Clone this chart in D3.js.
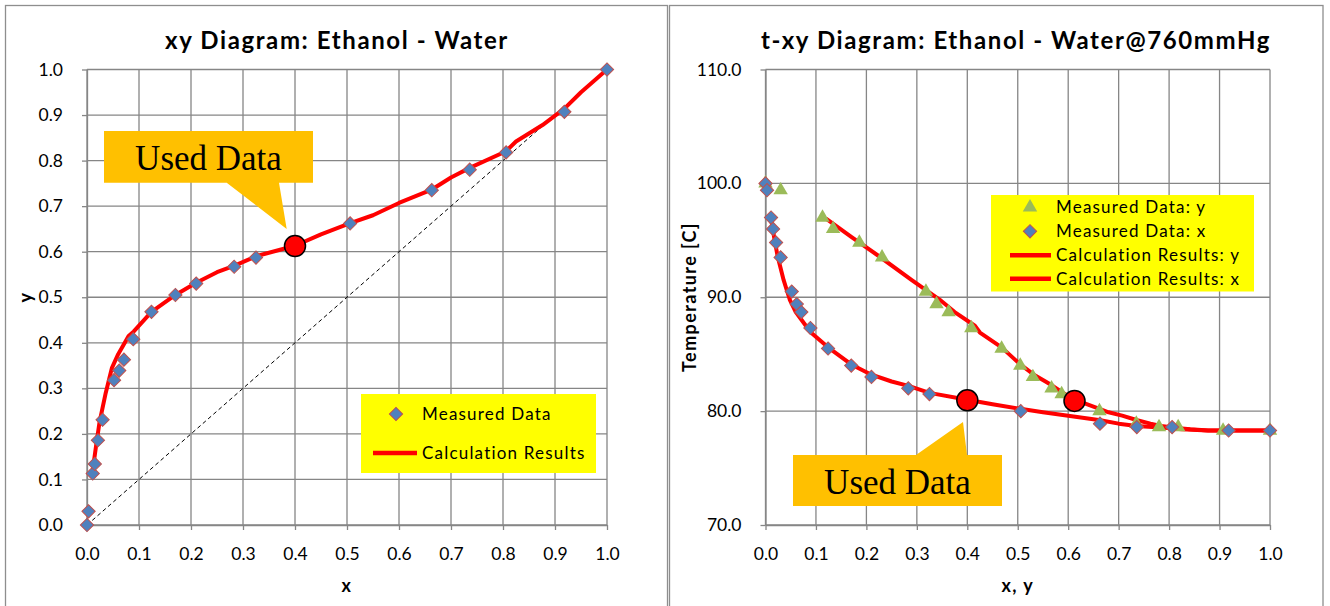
<!DOCTYPE html>
<html>
<head>
<meta charset="utf-8">
<script src="https://cdn.jsdelivr.net/npm/d3@7/dist/d3.min.js"></script>
<style>
  body { margin: 0; background: #fff; }
  svg text { font-family: Lato, "Open Sans", sans-serif; fill: #000; }
  .title { font-weight: bold; font-size: 24px; letter-spacing: 1.6px; }
  .axisLabel { font-weight: bold; font-size: 18px; letter-spacing: 1.4px; }
  .axis text { font-size: 17.5px; }
  .axis path, .axis line { stroke: #868686; stroke-width: 1.3; }
  .grid line { stroke: #868686; stroke-width: 1.3; }
  .legend text { font-size: 17px; letter-spacing: 1.2px; }
  .callout text { font-family: "Liberation Serif", "Times New Roman", serif; font-size: 35px; }
</style>
</head>
<body>
<svg id="chart" width="1330" height="606"></svg>
<script>
'use strict'

// measured VLE data, ethanol - water at 760 mmHg
const measX = [0, 0.003, 0.011, 0.015, 0.021, 0.030, 0.052, 0.062, 0.071, 0.089, 0.124, 0.170, 0.210, 0.283, 0.325, 0.506, 0.663, 0.736, 0.806, 0.918, 1.0]
const measY = [0, 0.030, 0.113, 0.134, 0.186, 0.231, 0.318, 0.339, 0.363, 0.408, 0.468, 0.505, 0.530, 0.567, 0.587, 0.662, 0.735, 0.780, 0.818, 0.907, 1.0]
const measT = [100.0, 99.4, 97.0, 96.0, 94.8, 93.5, 90.5, 89.4, 88.7, 87.3, 85.5, 84.0, 83.0, 82.0, 81.5, 80.0, 78.9, 78.6, 78.6, 78.3, 78.3]

// calculation results
const calcX = [0.011, 0.017, 0.024, 0.036, 0.048, 0.060, 0.080, 0.090, 0.124, 0.170, 0.210, 0.250, 0.285, 0.325, 0.400, 0.450, 0.505, 0.550, 0.600, 0.664, 0.700, 0.736, 0.805, 0.825, 0.876, 0.918, 0.950, 1.000]
const calcY = [0.120, 0.170, 0.225, 0.290, 0.345, 0.375, 0.415, 0.425, 0.468, 0.505, 0.532, 0.555, 0.570, 0.590, 0.613, 0.638, 0.662, 0.680, 0.707, 0.737, 0.763, 0.784, 0.820, 0.842, 0.878, 0.914, 0.950, 1.000]
const calcT = [96.9, 95.3, 93.6, 91.5, 89.8, 88.7, 87.5, 86.9, 85.6, 84.1, 83.2, 82.6, 82.2, 81.6, 81.0, 80.6, 80.2, 79.9, 79.6, 79.2, 78.9, 78.7, 78.5, 78.4, 78.3, 78.3, 78.3, 78.3]

// the "used data" point
const usedX = 0.4
const usedY = 0.6125
const usedTx = 80.95
const usedTy = 80.9

const fracTicks = d3.range(0, 11).map(i => i / 10)
const tempTicks = [70, 80, 90, 100, 110]

const colors = {
	diamond: '#4F81BD',
	diamondEdge: '#C0504D',
	triangle: '#9BBB59',
	calc: '#FF0000',
	legend: '#FFFF00',
	callout: '#FFC000',
	frame: '#8E8E8E'
}

const svg = d3.select('#chart')
const fmt = d3.format('.1f')

const diamond = d3.symbol().type(d3.symbolSquare).size(88)
const triangle = d3.symbol().type(d3.symbolTriangle).size(90)

// frames of the two chart objects
svg.append('rect').attr('x', 5.5).attr('y', 5.5).attr('width', 662).attr('height', 640)
	.attr('fill', 'none').attr('stroke', colors.frame).attr('stroke-width', 1.3)
svg.append('rect').attr('x', 669.5).attr('y', 5.5).attr('width', 653.5).attr('height', 640)
	.attr('fill', 'none').attr('stroke', colors.frame).attr('stroke-width', 1.3)

function panel(opts) {
	const g = svg.append('g')
	const x = opts.x, y = opts.y

	// grid
	const grid = g.append('g').attr('class', 'grid')
	grid.selectAll('.v').data(fracTicks).enter().append('line')
		.attr('x1', d => x(d)).attr('x2', d => x(d))
		.attr('y1', y.range()[0]).attr('y2', y.range()[1])
	grid.selectAll('.h').data(opts.yTicks).enter().append('line')
		.attr('x1', x.range()[0]).attr('x2', x.range()[1])
		.attr('y1', d => y(d)).attr('y2', d => y(d))

	// axes
	g.append('g').attr('class', 'axis')
		.attr('transform', 'translate(0,' + y.range()[0] + ')')
		.call(d3.axisBottom(x).tickValues(fracTicks).tickFormat(fmt).tickSizeInner(5).tickSizeOuter(0).tickPadding(18))
	g.append('g').attr('class', 'axis')
		.attr('transform', 'translate(' + x.range()[0] + ',0)')
		.call(d3.axisLeft(y).tickValues(opts.yTicks).tickFormat(fmt).tickSizeInner(5).tickSizeOuter(0).tickPadding(19))

	// title + axis labels
	g.append('text').attr('class', 'title')
		.attr('x', opts.titleX).attr('y', 49)
		.attr('text-anchor', 'middle').text(opts.title)
	g.append('text').attr('class', 'axisLabel')
		.attr('x', (x.range()[0] + x.range()[1]) / 2).attr('y', 592)
		.attr('text-anchor', 'middle').text(opts.xLabel)
	g.append('text').attr('class', 'axisLabel')
		.attr('transform', 'translate(' + opts.yLabelX + ',297) rotate(-90)')
		.attr('text-anchor', 'middle').text(opts.yLabel)
	return g
}

// box = [x0, y0, x1, y1]; pointer = [baseLeft, [tipX, tipY], baseRight] sitting on the top or bottom edge
function callout(g, box, pointer, side) {
	const [x0, y0, x1, y1] = box
	let pts
	if (side === 'top') {
		pts = [[x0, y0], [pointer[0], y0], pointer[1], [pointer[2], y0], [x1, y0], [x1, y1], [x0, y1]]
	} else {
		pts = [[x0, y0], [x1, y0], [x1, y1], [pointer[2], y1], pointer[1], [pointer[0], y1], [x0, y1]]
	}
	const c = g.append('g').attr('class', 'callout')
	c.append('path')
		.attr('d', 'M' + pts.join('L') + 'Z')
		.attr('fill', colors.callout)
	c.append('text')
		.attr('x', (x0 + x1) / 2).attr('y', y0 + 39)
		.attr('text-anchor', 'middle').text('Used Data')
}

function usedDot(g, cx, cy) {
	g.append('circle').attr('cx', cx).attr('cy', cy).attr('r', 10.5)
		.attr('fill', '#FF0000').attr('stroke', '#000').attr('stroke-width', 1.5)
}

// ---------------- xy diagram ----------------
const x1 = d3.scaleLinear().domain([0, 1]).range([87, 607])
const y1 = d3.scaleLinear().domain([0, 1]).range([525, 69.5])

const left = panel({
	x: x1, y: y1, yTicks: fracTicks,
	title: 'xy Diagram: Ethanol - Water', titleX: 337,
	xLabel: 'x', yLabel: 'y', yLabelX: 32
})

left.append('path')
	.datum([0, 1])
	.attr('d', d3.line().x(d => x1(d)).y(d => y1(d)))
	.attr('stroke', '#000').attr('stroke-width', 1).attr('stroke-dasharray', '4,3').attr('fill', 'none')

left.append('path')
	.datum(calcX.map((d, i) => [d, calcY[i]]))
	.attr('d', d3.line().x(d => x1(d[0])).y(d => y1(d[1])))
	.attr('stroke', colors.calc).attr('stroke-width', 4).attr('fill', 'none').attr('stroke-linejoin', 'round')

left.selectAll('.pt').data(measX).enter().append('path')
	.attr('d', diamond)
	.attr('transform', (d, i) => 'translate(' + x1(d) + ',' + y1(measY[i]) + ') rotate(45)')
	.attr('fill', colors.diamond).attr('stroke', colors.diamondEdge).attr('stroke-width', 1)

usedDot(left, x1(usedX), y1(usedY))
callout(left, [104, 131, 313, 182.7], [226.7, [286.7, 229], 279], 'bottom')

// legend
const leg1 = left.append('g').attr('class', 'legend')
leg1.append('rect').attr('x', 361).attr('y', 394).attr('width', 235).attr('height', 79).attr('fill', colors.legend)
leg1.append('path').attr('d', diamond).attr('transform', 'translate(396,414) rotate(45)')
	.attr('fill', colors.diamond).attr('stroke', colors.diamondEdge)
leg1.append('text').attr('x', 422).attr('y', 414).attr('dy', '0.36em').text('Measured Data')
leg1.append('line').attr('x1', 373).attr('x2', 417).attr('y1', 453).attr('y2', 453)
	.attr('stroke', colors.calc).attr('stroke-width', 4.5)
leg1.append('text').attr('x', 422).attr('y', 453).attr('dy', '0.36em').text('Calculation Results')

// ---------------- t-xy diagram ----------------
const x2 = d3.scaleLinear().domain([0, 1]).range([765.5, 1270])
const y2 = d3.scaleLinear().domain([70, 110]).range([525, 69.5])

const right = panel({
	x: x2, y: y2, yTicks: tempTicks,
	title: 't-xy Diagram: Ethanol - Water@760mmHg', titleX: 1016,
	xLabel: 'x, y', yLabel: 'Temperature [C]', yLabelX: 696
})

const lineT = d3.line().x(d => x2(d[0])).y(d => y2(d[1]))
right.append('path')
	.datum(calcY.map((d, i) => [d, calcT[i]]))
	.attr('d', lineT)
	.attr('stroke', colors.calc).attr('stroke-width', 4).attr('fill', 'none').attr('stroke-linejoin', 'round')
right.append('path')
	.datum(calcX.map((d, i) => [d, calcT[i]]))
	.attr('d', lineT)
	.attr('stroke', colors.calc).attr('stroke-width', 4).attr('fill', 'none').attr('stroke-linejoin', 'round')

right.selectAll('.tri').data(measY).enter().append('path')
	.attr('d', triangle)
	.attr('transform', (d, i) => 'translate(' + x2(d) + ',' + y2(measT[i]) + ')')
	.attr('fill', colors.triangle)

right.selectAll('.dia').data(measX).enter().append('path')
	.attr('d', diamond)
	.attr('transform', (d, i) => 'translate(' + x2(d) + ',' + y2(measT[i]) + ') rotate(45)')
	.attr('fill', colors.diamond).attr('stroke', colors.diamondEdge).attr('stroke-width', 1)

usedDot(right, x2(usedX), y2(usedTx))
usedDot(right, x2(usedY), y2(usedTy))
callout(right, [793, 455, 1002, 506], [916, [963, 422], 967], 'top')

const leg2 = right.append('g').attr('class', 'legend')
leg2.append('rect').attr('x', 991).attr('y', 195).attr('width', 263).attr('height', 96.5).attr('fill', colors.legend)
const rows = ['Measured Data: y', 'Measured Data: x', 'Calculation Results: y', 'Calculation Results: x']
const rowY = [207.3, 231.3, 255.2, 278.8]
rows.forEach((label, i) => {
	if (i === 0) {
		leg2.append('path').attr('d', triangle).attr('transform', 'translate(1030,' + rowY[i] + ')').attr('fill', colors.triangle)
	} else if (i === 1) {
		leg2.append('path').attr('d', diamond).attr('transform', 'translate(1030,' + rowY[i] + ') rotate(45)')
			.attr('fill', colors.diamond).attr('stroke', colors.diamondEdge)
	} else {
		leg2.append('line').attr('x1', 1010).attr('x2', 1051).attr('y1', rowY[i]).attr('y2', rowY[i])
			.attr('stroke', colors.calc).attr('stroke-width', 4.5)
	}
	leg2.append('text').attr('x', 1056).attr('y', rowY[i]).attr('dy', '0.36em').text(label)
})
</script>
</body>
</html>
